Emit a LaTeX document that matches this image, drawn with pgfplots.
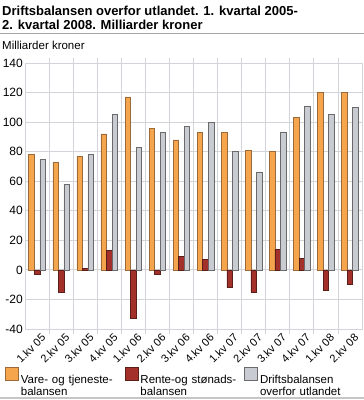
\documentclass[border=0pt]{standalone}
\usepackage{pgfplots}
\pgfplotsset{compat=1.18}
\usepackage{fontspec}
\setmainfont{Liberation Sans}
\definecolor{cor}{HTML}{F5A54C}
\definecolor{cord}{HTML}{9A6A3A}
\definecolor{cre}{HTML}{A3302A}
\definecolor{cred}{HTML}{5A1E18}
\definecolor{cgr}{HTML}{C8CBD1}
\definecolor{cgrd}{HTML}{6A6A6A}
\definecolor{cgrid}{HTML}{D2D4DA}
\begin{document}
\begin{tikzpicture}[x=1bp,y=1bp]
\path[use as bounding box] (0,0) rectangle (364,-400);
\node[anchor=base west, inner sep=0, font=\fontsize{13bp}{15bp}\selectfont\bfseries] at (2,-15) {Driftsbalansen overfor utlandet. 1. kvartal 2005-};
\node[anchor=base west, inner sep=0, font=\fontsize{13bp}{15bp}\selectfont\bfseries] at (2,-29) {2. kvartal 2008. Milliarder kroner};
\draw[color=gray!70, line width=1bp] (0,-33.5) -- (364,-33.5);
\node[anchor=base west, inner sep=0, font=\fontsize{11.5bp}{13bp}\selectfont] at (2,-49) {Milliarder kroner};
\draw[color=gray!45, line width=2bp] (0,-398) -- (364,-398);
\begin{axis}[
  at={(25bp,-329bp)}, anchor=south west,
  scale only axis, width=337bp, height=266bp,
  ymin=-40, ymax=140, ytick={-40,-20,...,140},
  xmin=-0.5, xmax=13.5,
  xtick={0,...,13},
  xticklabels={1.kv 05,2.kv 05,3.kv 05,4.kv 05,1.kv 06,2.kv 06,3.kv 06,4.kv 06,1.kv 07,2.kv 07,3.kv 07,4.kv 07,1.kv 08,2.kv 08},
  minor xtick={0.5,1.5,...,12.5},
  xminorgrids, ymajorgrids,
  grid style={color=cgrid, line width=0.8bp},
  minor grid style={color=cgrid, line width=0.8bp},
  axis line style={color=cgrid, line width=0.8bp},
  major tick length=0pt, minor tick length=5bp,
  tick align=outside,
  minor tick style={color=cgrid, line width=0.8bp},
  xticklabel style={rotate=45, anchor=north east, font=\fontsize{11bp}{12bp}\selectfont, inner sep=1bp, yshift=-4bp, xshift=1bp},
  yticklabel style={font=\fontsize{12bp}{13bp}\selectfont, inner sep=2bp},
  /pgf/number format/assume math mode=true,
  ybar,
  bar width=0.23,
  legend style={at={(-0.068,-0.135)}, anchor=north west, draw=none, fill=none,
    legend columns=3, font=\fontsize{11.5bp}{12bp}\selectfont,
    cells={align=left, anchor=north west, text width=100bp},
    /tikz/every even column/.append style={column sep=2bp},
    /tikz/every odd column/.append style={column sep=0bp}},
  legend image code/.code={\draw[#1, line width=0.6bp] (0bp,-7bp) rectangle (13bp,6bp);},
]
\addplot[fill=cor, draw=cord, line width=0.6bp, bar shift=-0.23] coordinates {(0,78) (1,73) (2,77) (3,92) (4,117) (5,96) (6,88) (7,93) (8,93) (9,81) (10,80) (11,103) (12,120) (13,120)};
\addlegendentry{Vare- og tjeneste-\\balansen}
\addplot[fill=cre, draw=cred, line width=0.6bp, bar shift=0] coordinates {(0,-3) (1,-15) (2,1) (3,13) (4,-33) (5,-3) (6,9) (7,7) (8,-12) (9,-15) (10,14) (11,8) (12,-14) (13,-10)};
\addlegendentry{Rente-og stønads-\\balansen}
\addplot[fill=cgr, draw=cgrd, line width=0.6bp, bar shift=0.23] coordinates {(0,75) (1,58) (2,78) (3,105) (4,83) (5,93) (6,97) (7,100) (8,80) (9,66) (10,93) (11,111) (12,105) (13,110)};
\addlegendentry{Driftsbalansen\\overfor utlandet}
\end{axis}
\end{tikzpicture}
\end{document}
